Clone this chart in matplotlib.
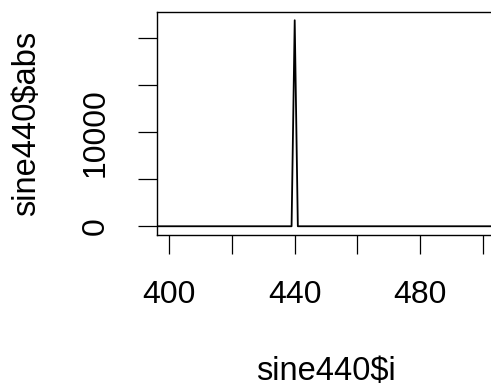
import matplotlib
matplotlib.use("Agg")
import matplotlib.pyplot as plt

# vertices of the magnitude trace (sine440$i vs sine440$abs)
freq_i = [396, 439, 440, 441, 504]
abs_val = [0, 0, 21920, 0, 0]

x_ticks = [400, 420, 440, 460, 480, 500]
x_labels = ["400", "", "440", "", "480", ""]
y_ticks = [0, 5000, 10000, 15000, 20000]
y_labels = ["0", "", "10000", "", ""]

plt.rcParams["font.family"] = ["Liberation Sans", "DejaVu Sans"]

W, H = 491, 387
fig = plt.figure(figsize=(W / 100, H / 100), dpi=100)
left, right, top, bottom = 156.8, 495.3, 12.0, 234.5
ax = fig.add_axes([left / W, 1 - bottom / H, (right - left) / W, (bottom - top) / H])

ax.plot(freq_i, abs_val, color="black", lw=1.3)
ax.set_xlim(396, 504)
ax.set_ylim(-877, 22797)

ax.set_xticks(x_ticks)
ax.set_xticklabels(x_labels)
ax.set_yticks(y_ticks)
ax.set_yticklabels(y_labels, rotation=90, va="center")
ax.tick_params(axis="both", direction="out", length=14, width=0.9, labelsize=23, color="black")
ax.tick_params(axis="x", pad=19)
ax.tick_params(axis="y", pad=19)
for s in ax.spines.values():
    s.set_linewidth(1.0)

fig.text(326 / W, 1 - 380 / H, "sine440$i", ha="center", va="baseline", fontsize=23.5)
fig.text(35 / W, 1 - 123 / H, "sine440$abs", ha="center", va="baseline", rotation=90,
         fontsize=23.5, rotation_mode="anchor")

fig.savefig("out.png", dpi=100)
